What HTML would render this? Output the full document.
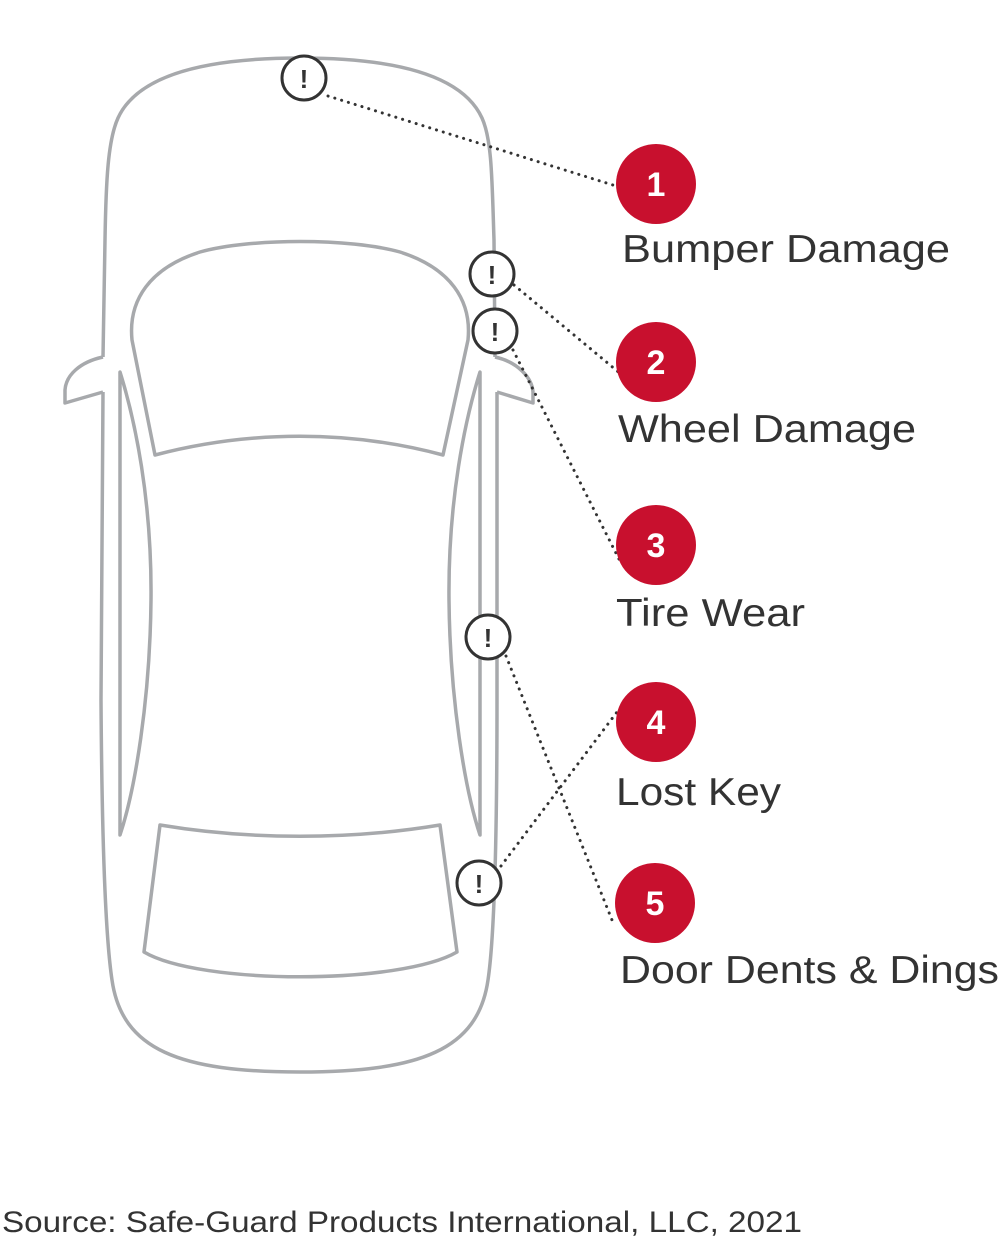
<!DOCTYPE html>
<html><head><style>
html,body{margin:0;padding:0;background:#fff;width:1000px;height:1238px;overflow:hidden}
</style></head><body>
<svg width="1000" height="1238" viewBox="0 0 1000 1238" xmlns="http://www.w3.org/2000/svg">
<g fill="none" stroke="#a7a9ac" stroke-width="3.5" stroke-linejoin="round">
<path d="M103,357 L105,240 C106,180 108,140 118,118 C140,70 220,58 300,58 C380,58 460,70 482,118 C492,140 492,180 494,240 L495,357"/>
<path d="M103,392 L101,700 C102,850 106,940 112,980 C122,1050 180,1072 300,1072 C420,1072 478,1050 488,980 C494,940 497,850 497,700 L497,392"/>
<path d="M103,357 C80,362 66,375 65,390 L65,403 L103,392"/>
<path d="M495,357 C518,362 532,378 533,392 L533,403 L497,392"/>
<path d="M155,455 L132,340 C128,300 150,268 200,252 C250,238 350,238 400,252 C450,268 472,300 468,340 L443,455 C350,430 250,430 155,455 Z"/>
<path d="M120,372 L120,835 C135,790 150,700 151,600 C152,500 135,420 120,372 Z"/>
<path d="M480,372 L480,835 C465,790 450,700 449,600 C448,500 465,420 480,372 Z"/>
<path d="M160,825 C250,840 350,840 440,825 L457,952 C400,985 200,985 144,952 Z"/>
</g>
<g stroke="#333" stroke-width="3" stroke-dasharray="0.1 7" stroke-linecap="round" fill="none">
<line x1="328" y1="96" x2="616" y2="186"/>
<line x1="514" y1="285" x2="628" y2="380"/>
<line x1="513" y1="350" x2="622" y2="565"/>
<line x1="506" y1="656" x2="612" y2="920"/>
<line x1="501" y1="866" x2="620" y2="708"/>
</g>
<g fill="#fff" stroke="#333" stroke-width="3">
<circle cx="304" cy="78" r="22"/>
<circle cx="492" cy="274" r="22"/>
<circle cx="495" cy="331" r="22"/>
<circle cx="488" cy="637" r="22"/>
<circle cx="479" cy="883" r="22"/>
</g>
<g font-family="Liberation Sans, sans-serif" font-weight="bold" font-size="26" fill="#333" text-anchor="middle">
<text x="304" y="88">!</text>
<text x="492" y="284">!</text>
<text x="495" y="341">!</text>
<text x="488" y="647">!</text>
<text x="479" y="893">!</text>
</g>
<g fill="#c8102e">
<circle cx="656" cy="184" r="40"/>
<circle cx="656" cy="362" r="40"/>
<circle cx="656" cy="545" r="40"/>
<circle cx="656" cy="722" r="40"/>
<circle cx="655" cy="903" r="40"/>
</g>
<g font-family="Liberation Sans, sans-serif" font-weight="bold" font-size="34" fill="#fff" text-anchor="middle">
<text x="656" y="196">1</text>
<text x="656" y="374">2</text>
<text x="656" y="557">3</text>
<text x="656" y="734">4</text>
<text x="655" y="915">5</text>
</g>
<g font-family="Liberation Sans, sans-serif" font-size="39" fill="#333" lengthAdjust="spacingAndGlyphs">
<text x="622" y="262" textLength="328" lengthAdjust="spacingAndGlyphs">Bumper Damage</text>
<text x="618" y="442" textLength="298" lengthAdjust="spacingAndGlyphs">Wheel Damage</text>
<text x="616" y="626" textLength="189" lengthAdjust="spacingAndGlyphs">Tire Wear</text>
<text x="616" y="805" textLength="165" lengthAdjust="spacingAndGlyphs">Lost Key</text>
<text x="620" y="983" textLength="379" lengthAdjust="spacingAndGlyphs">Door Dents &amp; Dings</text>
</g>
<text x="2" y="1232" font-family="Liberation Sans, sans-serif" font-size="30" fill="#333" textLength="800" lengthAdjust="spacingAndGlyphs">Source: Safe-Guard Products International, LLC, 2021</text>
</svg>
</body></html>
